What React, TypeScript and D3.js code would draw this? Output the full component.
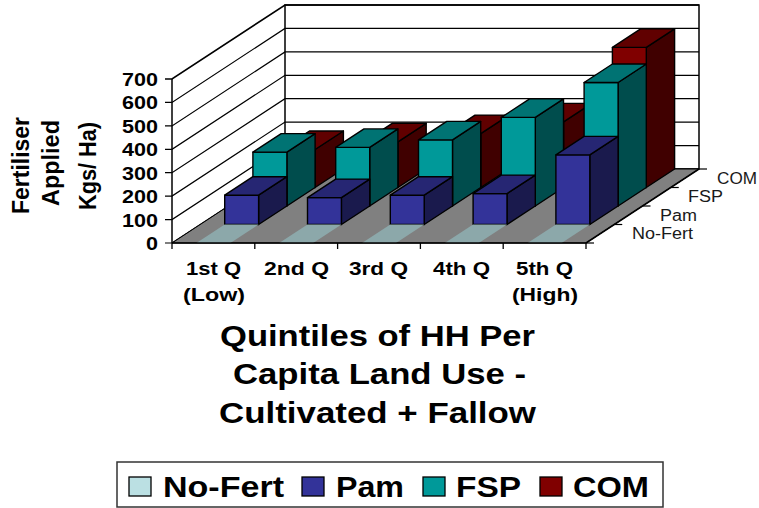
import React from "react";
import * as d3 from "d3";

const categories = ["1st Q", "2nd Q", "3rd Q", "4th Q", "5th Q"];
const categorySub = ["(Low)", "", "", "", "(High)"];
const seriesNames = ["No-Fert", "Pam", "FSP", "COM"];
const noFert = [0, 0, 0, 0, 0];
const pam = [125, 115, 125, 132, 297];
const fsp = [230, 250, 282, 378, 527];
const com = [162, 195, 230, 280, 598];
const yTicks = [0, 100, 200, 300, 400, 500, 600, 700];
const axisTitle = ["Fertiliser", "Applied", "Kgs/ Ha)"];
const xTitle = ["Quintiles of HH Per", "Capita Land Use -", "Cultivated + Fallow"];
const faces = [
  { front: "#bbe0e3", top: "#8ca8aa", side: "#5e7072" },
  { front: "#333399", top: "#262673", side: "#1a1a4d" },
  { front: "#009999", top: "#007373", side: "#004d4d" },
  { front: "#800000", top: "#600000", side: "#400000" },
];

const W = 759, H = 508;
const x0 = 172, y0 = 243, plotW = 414, dx = 113, dy = -74, plotH = 164;
const FONT = "'Liberation Sans', Arial, sans-serif";

// text layout (not data)
const catLayout = [
  { x: 186, w: 55 }, { x: 264, w: 65 }, { x: 349, w: 59 }, { x: 433, w: 57 }, { x: 516, w: 57 },
];
const subLayout = [{ x: 183, w: 62 }, null, null, null, { x: 512, w: 66 }];
const axisTitleLayout = [
  { x: 29, y: 214, w: 97 }, { x: 59, y: 206, w: 86 }, { x: 96, y: 210, w: 88 },
];
const xTitleLayout = [
  { x: 220, y: 346, w: 315 }, { x: 233, y: 384, w: 293 }, { x: 219, y: 423, w: 317 },
];
const seriesLabelLayout = [
  { x: 632, y: 239, w: 61 }, { x: 660, y: 221, w: 37 }, { x: 688, y: 202, w: 35 }, { x: 717, y: 184, w: 40 },
];
const legendLayout = [
  { sx: 129, tx: 163, tw: 121 },
  { sx: 302, tx: 336, tw: 68 },
  { sx: 423, tx: 456, tw: 65 },
  { sx: 540, tx: 573, tw: 76 },
];

export default function App() {
  const allSeries = [noFert, pam, fsp, com];
  const x = d3.scaleBand<string>().domain(categories).range([x0, x0 + plotW]).paddingInner(0.59).paddingOuter(0.295);
  const y = d3.scaleLinear().domain([0, 700]).range([0, plotH]);
  const depth = d3.scaleLinear().domain([0, 4]).range([0, 1]);
  const P = (px: number, d: number, h: number) => [px + depth(d) * dx, y0 + depth(d) * dy - h];
  const pts = (a: number[][]) => a.map((p) => p.map((v) => v.toFixed(1)).join(",")).join(" ");
  const BLACK = "#000";

  const bars: React.ReactNode[] = [];
  [3, 2, 1, 0].forEach((s) => {
    allSeries[s].forEach((v, i) => {
      const xl = x(categories[i])!;
      const xr = xl + x.bandwidth();
      const h = y(v);
      const key = `${s}-${i}`;
      const sw = 1.4;
      if (h > 0) {
        bars.push(<polygon key={key + "s"} points={pts([P(xr, s, 0), P(xr, s + 1, 0), P(xr, s + 1, h), P(xr, s, h)])} fill={faces[s].side} stroke={BLACK} strokeWidth={sw} strokeLinejoin="round" />);
        bars.push(<polygon key={key + "f"} points={pts([P(xl, s, 0), P(xr, s, 0), P(xr, s, h), P(xl, s, h)])} fill={faces[s].front} stroke={BLACK} strokeWidth={sw} strokeLinejoin="round" />);
      }
      bars.push(<polygon key={key + "t"} points={pts([P(xl, s, h), P(xr, s, h), P(xr, s + 1, h), P(xl, s + 1, h)])} fill={faces[s].top} stroke={s === 0 ? "none" : BLACK} strokeWidth={sw} strokeLinejoin="round" />);
    });
  });

  return (
    <svg width={W} height={H} style={{ position: "fixed", left: 0, top: 0, background: "#fff" }} fontFamily={FONT}>
      <polygon points={pts([P(x0, 0, 0), P(x0, 4, 0), P(x0, 4, plotH), P(x0, 0, plotH)])} fill="#fff" />
      <rect x={x0 + dx} y={y0 + dy - plotH} width={plotW} height={plotH} fill="#fff" stroke={BLACK} strokeWidth={1.5} />
      {yTicks.map((t) => {
        const a = P(x0, 0, y(t)), b = P(x0, 4, y(t)), c = P(x0 + plotW, 4, y(t));
        return (
          <g key={t}>
            <polyline points={pts([[a[0] - 7, a[1]], a, b, c])} fill="none" stroke={BLACK} strokeWidth={t === 700 ? 1.6 : 1.2} />
            <text x={t === 0 ? 146 : 122} y={a[1] + 7} fontSize={18} fontWeight="bold" textLength={t === 0 ? 12 : 36} lengthAdjust="spacingAndGlyphs">{t}</text>
          </g>
        );
      })}
      <line x1={x0} y1={y0} x2={x0} y2={y0 - plotH} stroke={BLACK} strokeWidth={1.5} />
      <polygon points={pts([P(x0, 0, 0), P(x0 + plotW, 0, 0), P(x0 + plotW, 4, 0), P(x0, 4, 0)])} fill="#808080" stroke={BLACK} strokeWidth={1} />
      {bars}
      <line x1={x0} y1={y0} x2={x0 + plotW} y2={y0} stroke={BLACK} strokeWidth={1.5} />
      <line x1={x0 + plotW} y1={y0} x2={x0 + plotW + dx} y2={y0 + dy} stroke={BLACK} strokeWidth={1.5} />
      {d3.range(6).map((i) => {
        const tx = x0 + (plotW / 5) * i;
        return <line key={i} x1={tx} y1={y0} x2={tx} y2={y0 + 6} stroke={BLACK} strokeWidth={1.3} />;
      })}
      {d3.range(5).map((i) => {
        const p = P(x0 + plotW, i, 0);
        return <line key={i} x1={p[0]} y1={p[1]} x2={p[0] + 8} y2={p[1]} stroke={BLACK} strokeWidth={1.2} />;
      })}
      {seriesNames.map((n, i) => {
        const l = seriesLabelLayout[i];
        return <text key={n} x={l.x} y={l.y} fontSize={16} fill="#1a1a1a" textLength={l.w} lengthAdjust="spacingAndGlyphs">{n}</text>;
      })}
      {categories.map((c, i) => {
        const l = catLayout[i], s = subLayout[i];
        return (
          <g key={c} fontSize={18} fontWeight="bold">
            <text x={l.x} y={275} textLength={l.w} lengthAdjust="spacingAndGlyphs">{c}</text>
            {s && <text x={s.x} y={301} textLength={s.w} lengthAdjust="spacingAndGlyphs">{categorySub[i]}</text>}
          </g>
        );
      })}
      {axisTitle.map((t, i) => {
        const l = axisTitleLayout[i];
        return <text key={t} transform={`translate(${l.x},${l.y}) rotate(-90)`} fontSize={23} fontWeight="bold" textLength={l.w} lengthAdjust="spacingAndGlyphs">{t}</text>;
      })}
      {xTitle.map((t, i) => {
        const l = xTitleLayout[i];
        return <text key={t} x={l.x} y={l.y} fontSize={29} fontWeight="bold" textLength={l.w} lengthAdjust="spacingAndGlyphs">{t}</text>;
      })}
      <rect x={117} y={462} width={546} height={45} fill="#fff" stroke="#333" strokeWidth={1.5} />
      {seriesNames.map((n, i) => {
        const l = legendLayout[i];
        return (
          <g key={n}>
            <rect x={l.sx} y={477} width={22} height={19} fill={faces[i].front} stroke={BLACK} strokeWidth={1.3} />
            <text x={l.tx} y={497} fontSize={30} fontWeight="bold" textLength={l.tw} lengthAdjust="spacingAndGlyphs">{n}</text>
          </g>
        );
      })}
    </svg>
  );
}
